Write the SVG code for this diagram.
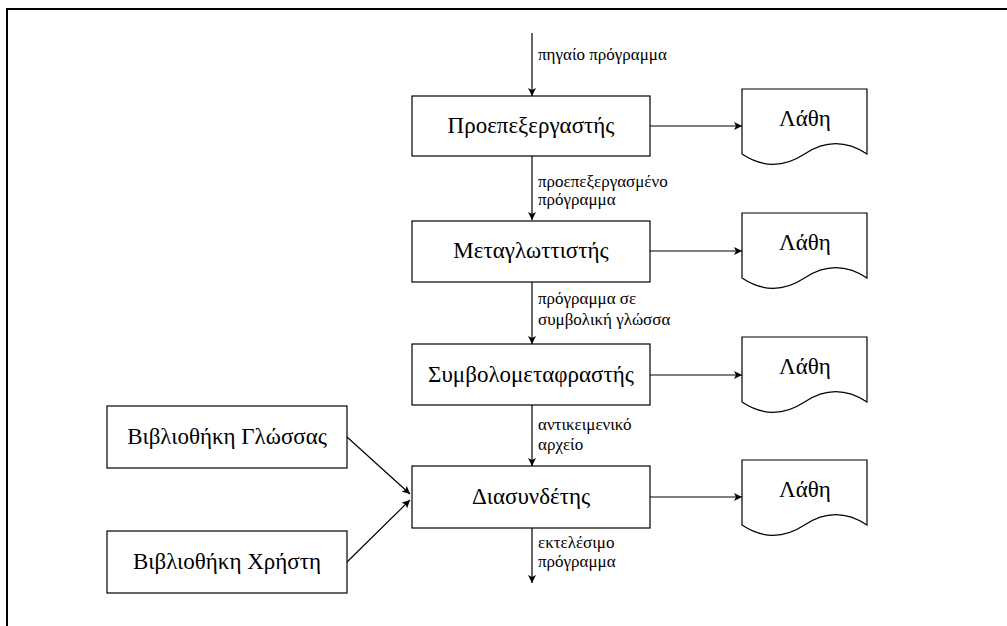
<svg xmlns="http://www.w3.org/2000/svg" width="1007" height="626" viewBox="0 0 1007 626">
<style>
.box{fill:#fff;stroke:#000;stroke-width:1.2}
.doc{fill:#fff;stroke:#000;stroke-width:1.2}
.t{font-family:"Liberation Serif","Times New Roman",serif;font-size:23px;fill:#000;text-anchor:middle}
.l{font-family:"Liberation Serif","Times New Roman",serif;font-size:17px;fill:#000}
.c{fill:none;stroke:#000;stroke-width:1.2}
</style>
<defs>
<marker id="ar" markerWidth="10" markerHeight="10" refX="8" refY="4" orient="auto" markerUnits="userSpaceOnUse">
<path d="M0,0 L8,4 L0,8 L2,4 Z" fill="#000"/>
</marker>
</defs>
<rect width="1007" height="626" fill="#fff"/>
<path d="M7,626 V9 H1007" fill="none" stroke="#000" stroke-width="2"/>

<g id="connectors">
<line class="c" x1="532" y1="33" x2="532" y2="96" marker-end="url(#ar)"/>
<line class="c" x1="532" y1="156" x2="532" y2="220" marker-end="url(#ar)"/>
<line class="c" x1="532" y1="282" x2="532" y2="344" marker-end="url(#ar)"/>
<line class="c" x1="532" y1="405" x2="532" y2="466" marker-end="url(#ar)"/>
<line class="c" x1="532" y1="528" x2="532" y2="583" marker-end="url(#ar)"/>
<line class="c" x1="650" y1="126" x2="742" y2="126" marker-end="url(#ar)"/>
<line class="c" x1="650" y1="251" x2="742" y2="251" marker-end="url(#ar)"/>
<line class="c" x1="650" y1="375" x2="742" y2="375" marker-end="url(#ar)"/>
<line class="c" x1="650" y1="497" x2="742" y2="497" marker-end="url(#ar)"/>
<line class="c" x1="347" y1="437" x2="410" y2="494" marker-end="url(#ar)"/>
<line class="c" x1="347" y1="562" x2="410" y2="500" marker-end="url(#ar)"/>
<text class="l" x="538" y="60">πηγαίο πρόγραμμα</text>
<text class="l" x="538" y="187">προεπεξεργασμένο</text>
<text class="l" x="538" y="205">πρόγραμμα</text>
<text class="l" x="538" y="304">πρόγραμμα σε</text>
<text class="l" x="538" y="325">συμβολική γλώσσα</text>
<text class="l" x="538" y="430">αντικειμενικό</text>
<text class="l" x="538" y="450">αρχείο</text>
<text class="l" x="538" y="548">εκτελέσιμο</text>
<text class="l" x="538" y="567">πρόγραμμα</text>
</g>

<g id="preprocessor">
<rect class="box" x="412" y="96" width="238" height="60"/>
<text class="t" x="531" y="133">Προεπεξεργαστής</text>
</g>
<g id="compiler">
<rect class="box" x="412" y="221" width="238" height="61"/>
<text class="t" x="531" y="258">Μεταγλωττιστής</text>
</g>
<g id="assembler">
<rect class="box" x="412" y="344" width="238" height="61"/>
<text class="t" x="531" y="382">Συμβολομεταφραστής</text>
</g>
<g id="linker">
<rect class="box" x="412" y="466" width="238" height="62"/>
<text class="t" x="531" y="504">Διασυνδέτης</text>
</g>
<g id="langlib">
<rect class="box" x="107" y="406" width="240" height="62"/>
<text class="t" x="227" y="444">Βιβλιοθήκη Γλώσσας</text>
</g>
<g id="userlib">
<rect class="box" x="107" y="531" width="240" height="62"/>
<text class="t" x="227" y="569">Βιβλιοθήκη Χρήστη</text>
</g>

<g id="err1">
<path class="doc" d="M742,89 H867 V154 Q835.75,133.3 804.5,154 Q773.25,174.7 742,154 Z"/>
<text class="t" x="805" y="126">Λάθη</text>
</g>
<g id="err2">
<path class="doc" d="M742,213 H867 V278 Q835.75,257.3 804.5,278 Q773.25,298.7 742,278 Z"/>
<text class="t" x="805" y="250">Λάθη</text>
</g>
<g id="err3">
<path class="doc" d="M742,337 H867 V402 Q835.75,381.3 804.5,402 Q773.25,422.7 742,402 Z"/>
<text class="t" x="805" y="374">Λάθη</text>
</g>
<g id="err4">
<path class="doc" d="M742,460 H867 V525 Q835.75,504.3 804.5,525 Q773.25,545.7 742,525 Z"/>
<text class="t" x="805" y="497">Λάθη</text>
</g>
</svg>
